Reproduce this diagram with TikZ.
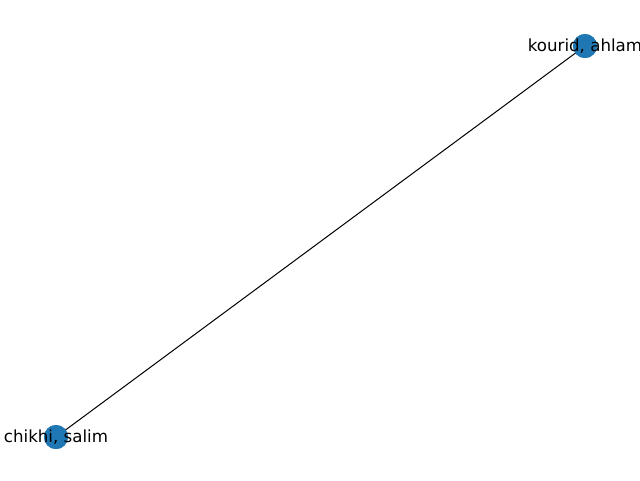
\documentclass[tikz,border=0pt]{standalone}
\usepackage{fontspec}
\setmainfont{DejaVu Sans}
\usepackage{xcolor}
\usepackage{tikz}
\definecolor{nodeblue}{HTML}{1F77B4}
\definecolor{edgeblack}{HTML}{000000}
\tikzset{every node/.append style={font=\fontsize{12.5}{15}\selectfont}}
\tikzset{author/.style={circle,fill=nodeblue,minimum size=18pt,inner sep=0pt}}
\tikzset{authorlabel/.style={text=black,inner sep=0pt}}

\begin{document}
\begin{tikzpicture}[x=0.75pt,y=-0.75pt]
  \useasboundingbox (0,0) rectangle (640,480);
  \node[author] (kourid) at (585,46) {};
  \node[author] (chikhi) at (56,437) {};
  \draw[edgeblack,line width=0.75pt] (kourid.center)--(chikhi.center);
  \node[author] at (kourid) {};
  \node[author] at (chikhi) {};
  \node[authorlabel] (kouridlabel) at (kourid) {kourid, ahlam};
  \node[authorlabel] (chikhilabel) at (chikhi) {chikhi, salim};
\end{tikzpicture}
\end{document}
